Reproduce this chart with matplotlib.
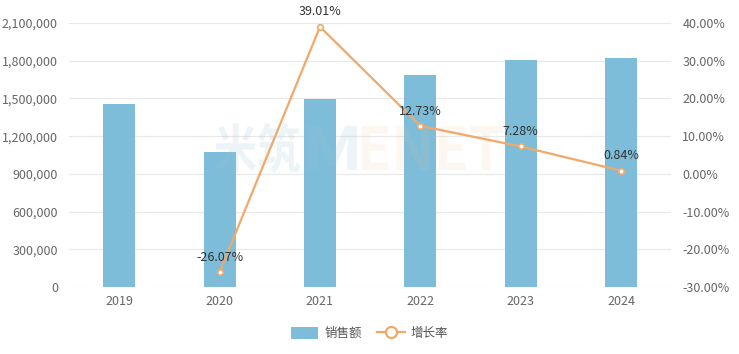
import matplotlib
matplotlib.use("Agg")
import matplotlib.pyplot as plt
from matplotlib.ticker import FuncFormatter, MultipleLocator
from matplotlib.lines import Line2D
from matplotlib.patches import Patch, PathPatch
from matplotlib.textpath import TextPath
from matplotlib.font_manager import FontProperties
from matplotlib.transforms import Affine2D, IdentityTransform

plt.rcParams['font.family'] = ['Noto Sans CJK SC', 'DejaVu Sans']

years = ['2019', '2020', '2021', '2022', '2023', '2024']
sales = [1456000, 1076400, 1496300, 1686800, 1809600, 1824800]
growth = [None, -26.07, 39.01, 12.73, 7.28, 0.84]
growth_labels = ['', '-26.07%', '39.01%', '12.73%', '7.28%', '0.84%']

bar_color = '#7dbdd9'
line_color = '#f0a96b'

W, H = 739, 354
fig = plt.figure(figsize=(W / 100, H / 100), dpi=100)
ax = fig.add_axes([0.0934, 0.189, 0.815, 0.746])
x = list(range(len(years)))

ax.bar(x, sales, width=0.32, color=bar_color, zorder=2)
ax.set_ylim(0, 2100000)
ax.set_xlim(-0.5, len(years) - 0.5)
ax.yaxis.set_major_locator(MultipleLocator(300000))
ax.yaxis.set_major_formatter(FuncFormatter(lambda v, p: f'{int(v):,}'))
ax.grid(axis='y', color='#e8e8e8', linewidth=0.9, zorder=0)
ax.set_xticks(x)
ax.set_xticklabels(years)
for s in ax.spines.values():
    s.set_visible(False)
ax.tick_params(axis='both', length=0, labelsize=9, colors='#666666')
ax.tick_params(axis='x', pad=6)
ax.tick_params(axis='y', pad=8)

ax2 = ax.twinx()
ax2.set_zorder(1)
gx = [i for i, g in zip(x, growth) if g is not None]
gy = [g for g in growth if g is not None]
ax2.plot(gx, gy, color=line_color, linewidth=1.6, marker='o', markersize=4,
         markerfacecolor='white', markeredgecolor=line_color, markeredgewidth=1.2, zorder=3)
ax2.set_ylim(-30, 40)
ax2.yaxis.set_major_locator(MultipleLocator(10))
ax2.yaxis.set_major_formatter(FuncFormatter(lambda v, p: f'{v:.2f}%'))
for s in ax2.spines.values():
    s.set_visible(False)
ax2.tick_params(axis='y', length=0, labelsize=9, colors='#666666', pad=8)

for xi, g, lab in zip(x, growth, growth_labels):
    if g is None:
        continue
    ax2.annotate(lab, (xi, g), xytext=(0, 6), textcoords='offset points',
                 ha='center', va='bottom', fontsize=9, color='#333333', zorder=4)

# faint watermark between bars and line, squeezed into its box (pixels from top-left)
wm_font = FontProperties(family='Noto Sans CJK SC', weight='bold')

def watermark(text, x0, x1, y0, y1, color, alpha):
    path = TextPath((0, 0), text, size=50, prop=wm_font)
    ext = path.get_extents()
    tr = (Affine2D().translate(-ext.x0, -ext.y0)
          .scale((x1 - x0) / ext.width, (y1 - y0) / ext.height)
          .translate(x0, H - y1))
    fig.add_artist(PathPatch(tr.transform_path(path), transform=IdentityTransform(),
                             facecolor=color, edgecolor='none', alpha=alpha, zorder=0.5))

watermark('米筑', 215, 300, 123, 173, '#9cc3d6', 0.18)
watermark('M', 308, 357, 126, 170, '#9cc3d6', 0.18)
watermark('ENET', 362, 502, 126, 170, '#f6c39b', 0.12)

handles = [Patch(facecolor=bar_color, edgecolor='none'),
           Line2D([0], [0], color=line_color, linewidth=1.6, marker='o', markersize=8,
                  markerfacecolor='white', markeredgecolor=line_color, markeredgewidth=1.6)]
leg = fig.legend(handles, ['销售额', '增长率'], loc='center', bbox_to_anchor=(0.5, 0.058),
                 ncol=2, frameon=False, fontsize=9, handlelength=2.2, handleheight=1.2,
                 columnspacing=1.2, handletextpad=0.5)
for t in leg.get_texts():
    t.set_color('#555555')

fig.savefig('out.png', dpi=100)
